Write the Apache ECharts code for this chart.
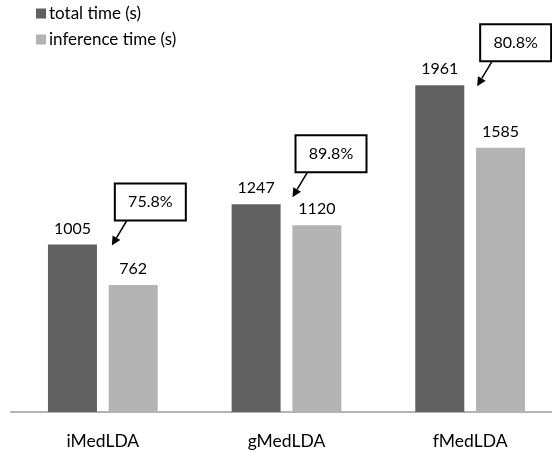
<!DOCTYPE html>
<html>
<head>
<meta charset="utf-8">
<script src="https://cdn.jsdelivr.net/npm/echarts@6/dist/echarts.min.js"></script>
<style>
  html, body { margin: 0; padding: 0; background: #fff; }
  #chart { width: 552px; height: 452px; }
</style>
</head>
<body>
<div id="chart"></div>
<script>
// Run time of the three MedLDA variants
const categories = ['iMedLDA', 'gMedLDA', 'fMedLDA'];
const totalTime = [1005, 1247, 1961];
const inferenceTime = [762, 1120, 1585];
const seriesNames = ['total time (s)', 'inference time (s)'];

// Callout placement (pixel offsets of the arrow tip from the category centre / total-bar top)
const tipDx = [9, 6, 7];
const tipDy = [1, -7, 1];

const FONT = 'Lato, "Open Sans", sans-serif';
const DARK = '#606060';
const LIGHT = '#b3b3b3';

const chart = echarts.init(document.getElementById('chart'), null, { renderer: 'canvas' });

const labelStyle = {
  show: true,
  position: 'top',
  distance: 8,
  color: '#000',
  fontSize: 16,
  fontFamily: FONT
};

chart.setOption({
  animation: false,
  backgroundColor: '#fff',
  legend: {
    orient: 'vertical',
    left: 31,
    top: 0,
    icon: 'rect',
    itemWidth: 10,
    itemHeight: 10,
    itemGap: 9,
    textStyle: { fontSize: 17, fontFamily: FONT, color: '#000', lineHeight: 17, padding: [0, 0, 0, -2] },
    data: seriesNames
  },
  // the plot runs past the right edge of the canvas, so the axis line is cut there
  grid: { left: 11, top: 12, height: 400, width: 551, outerBoundsMode: 'none', containLabel: false },
  xAxis: {
    type: 'category',
    data: categories,
    axisLine: { lineStyle: { color: '#b3b3b3', width: 2 } },
    axisTick: { show: false },
    axisLabel: { margin: 20, fontSize: 17.5, fontFamily: FONT, color: '#000' }
  },
  yAxis: { type: 'value', min: 0, max: 2400, show: false },
  series: [
    {
      name: seriesNames[0],
      type: 'bar',
      data: totalTime,
      barWidth: 49,
      barGap: '24%',
      itemStyle: { color: DARK },
      label: labelStyle
    },
    {
      name: seriesNames[1],
      type: 'bar',
      data: inferenceTime,
      barWidth: 49,
      itemStyle: { color: LIGHT },
      label: labelStyle
    }
  ]
});

// Ratio callouts: inference time as a share of total time
const BOX_W = 71, BOX_H = 37;
const graphics = [];
categories.forEach((c, i) => {
  const p = chart.convertToPixel({ gridIndex: 0 }, [i, totalTime[i]]);
  const tip = [p[0] + tipDx[i], p[1] + tipDy[i]];
  const boxLeft = tip[0] + 3;
  const boxBottom = tip[1] - 25;
  const tail = [boxLeft + 12, boxBottom];
  const pct = (inferenceTime[i] / totalTime[i] * 100).toFixed(1) + '%';

  // arrow shaft and head
  const vx = tip[0] - tail[0], vy = tip[1] - tail[1];
  const len = Math.sqrt(vx * vx + vy * vy);
  const ux = vx / len, uy = vy / len;
  const headL = 9, headW = 4.5;
  const base = [tip[0] - ux * headL, tip[1] - uy * headL];
  graphics.push({
    type: 'line',
    shape: { x1: tail[0], y1: tail[1], x2: base[0], y2: base[1] },
    style: { stroke: '#000', lineWidth: 1.5 },
    z: 10
  });
  graphics.push({
    type: 'polygon',
    shape: {
      points: [
        tip,
        [base[0] - uy * headW, base[1] + ux * headW],
        [base[0] + uy * headW, base[1] - ux * headW]
      ]
    },
    style: { fill: '#000' },
    z: 10
  });
  graphics.push({
    type: 'rect',
    shape: { x: boxLeft, y: boxBottom - BOX_H, width: BOX_W, height: BOX_H },
    style: { fill: '#fff', stroke: '#000', lineWidth: 2 },
    z: 10
  });
  graphics.push({
    type: 'text',
    style: {
      text: pct,
      x: boxLeft + BOX_W / 2,
      y: boxBottom - BOX_H / 2,
      align: 'center',
      verticalAlign: 'middle',
      font: '16px ' + FONT,
      fill: '#000'
    },
    z: 11
  });
});
chart.setOption({ graphic: graphics });
</script>
</body>
</html>
